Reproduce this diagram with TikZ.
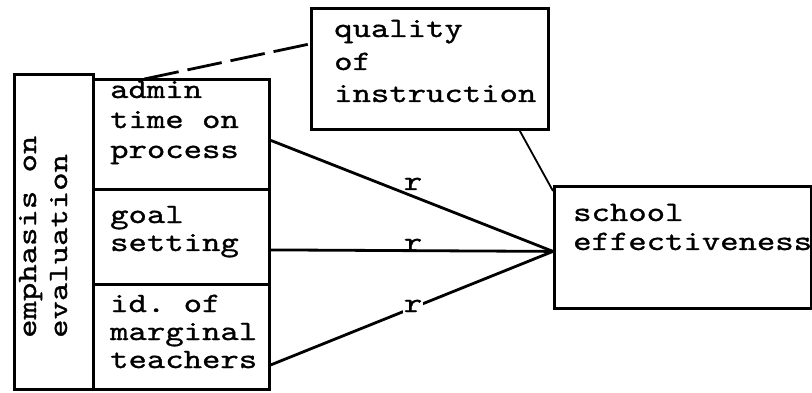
\documentclass[tikz,border=0pt]{standalone}
\usepackage{fontspec}
\setmonofont{lmmono10-regular.otf}[FakeStretch=1.25,FakeBold=1]
\begin{document}
\begin{tikzpicture}[x=1pt,y=-1pt,
  box/.style={draw,line width=2.8pt,inner sep=0pt,anchor=north west},
  txt/.style={anchor=base west,inner sep=0pt,font=\ttfamily\fontsize{28}{28}\selectfont,align=left},
  rlab/.style={anchor=base,inner sep=1pt,font=\ttfamily\fontsize{28}{28}\selectfont},
  link/.style={line width=2.8pt},
  thinlink/.style={line width=1.8pt},
  dashlink/.style={line width=2.8pt,dash pattern=on 35pt off 9pt}]
\useasboundingbox (0,0) rectangle (812,393);
% boxes
\node[box,minimum width=79pt,minimum height=315pt] (emph) at (13,73) {};
\node[box,minimum width=176pt,minimum height=110pt] (admin) at (92,78) {};
\node[box,minimum width=176pt,minimum height=95pt] (goal) at (92,188) {};
\node[box,minimum width=176pt,minimum height=105pt] (ident) at (92,283) {};
\node[box,minimum width=237pt,minimum height=121pt] (quality) at (310,7) {};
\node[box,minimum width=257pt,minimum height=122pt] (school) at (553,185) {};
% texts
\node[txt] (tadmin1) at (110,98) {admin};
\node[txt] (tadmin2) at (110,128) {time on};
\node[txt] (tadmin3) at (110,158) {process};
\node[txt] (tgoal1) at (110,223) {goal};
\node[txt] (tgoal2) at (110,251) {setting};
\node[txt] (tid1) at (110,312) {id. of};
\node[txt] (tid2) at (110,340) {marginal};
\node[txt] (tid3) at (110,368) {teachers};
\node[txt] (tq1) at (334,37) {quality};
\node[txt] (tq2) at (334,70) {of};
\node[txt] (tq3) at (334,102) {instruction};
\node[txt] (ts1) at (573,221) {school};
\node[txt] (ts2) at (573,250) {effectiveness};
\node[txt,rotate=90] (te1) at (36,338) {emphasis on};
\node[txt,rotate=90] (te2) at (67,338) {evaluation};
% connectors
\coordinate (conv) at ([yshift=-4pt]school.west);
\draw[link] ([yshift=-6pt]admin.east) -- (conv);
\draw[link] ([yshift=-13pt]goal.east) -- (conv);
\draw[link] ([yshift=-28pt]ident.east) -- (conv);
\draw[dashlink] ([xshift=-37pt,yshift=-1pt]admin.north) -- ([yshift=25pt]quality.west);
\draw[thinlink] ([xshift=-30pt]quality.south east) -- ([yshift=-6pt]school.north west);
% r labels
\node[rlab] (r1) at (413,190) {r};
\node[rlab] (r2) at (413,251) {r};
\node[rlab,fill=white] (r3) at (413,312) {r};
\end{tikzpicture}
\end{document}
